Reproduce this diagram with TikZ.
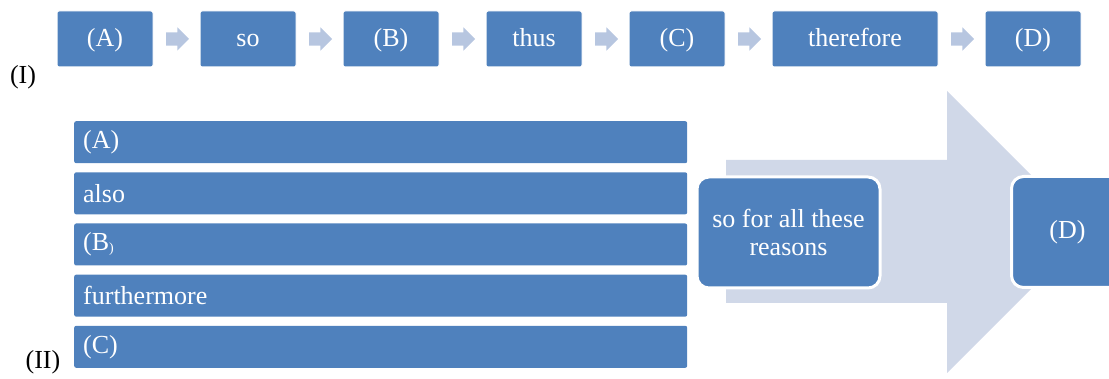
\documentclass[tikz,border=0pt]{standalone}
\usepackage{fontspec}
\setmainfont{Liberation Serif}
\usetikzlibrary{shapes.arrows,positioning}
\definecolor{boxblue}{HTML}{4F81BD}
\definecolor{steparrow}{HTML}{B7C6E0}
\definecolor{bigarrow}{HTML}{D0D8E8}

\begin{document}
\begin{tikzpicture}[x=1pt,y=-1pt,
  every node/.style={font=\fontsize{26}{28}\selectfont},
  word/.style={fill=boxblue,draw=white,line width=1pt,outer sep=0pt,rounded corners=2pt,text=white,minimum width=96pt,minimum height=56pt,inner sep=0pt,text height=21pt,text depth=5pt},
  link/.style={single arrow,fill=steparrow,minimum height=23pt,minimum width=23pt,single arrow head extend=5pt,inner xsep=0pt,inner ysep=6.5pt,outer sep=0pt},
  bar/.style={fill=boxblue,rounded corners=2pt,text=white,minimum height=42pt,text width=595pt,inner xsep=9pt,inner ysep=0pt,align=left},
  block/.style={fill=boxblue,draw=white,line width=3pt,rounded corners=12pt,text=white,minimum height=111pt,align=center,inner sep=0pt}]
\useasboundingbox (0,0) rectangle (1109,379);

% (I)
\node (one) at (23,77) {(I)};
\node[word] (a) at (105,39) {(A)};
\node[link] (a1)[right=13pt of a] {};
\node[word] (so)[right=11pt of a1] {so};
\node[link] (so1)[right=13pt of so] {};
\node[word] (b)[right=11pt of so1] {(B)};
\node[link] (b1)[right=13pt of b] {};
\node[word] (thus)[right=11pt of b1] {thus};
\node[link] (thus1)[right=13pt of thus] {};
\node[word] (c)[right=11pt of thus1] {(C)};
\node[link] (c1)[right=13pt of c] {};
\node[word,minimum width=166pt] (therefore)[right=11pt of c1] {therefore};
\node[link] (therefore1)[right=13pt of therefore] {};
\node[word] (d)[right=11pt of therefore1] {(D)};

% (II)
\node (two) at (43,362) {(II)};
\fill[bigarrow] (726,160) -- (947,160) -- (947,91) -- (1088,232) -- (947,373) -- (947,303) -- (726,303) -- cycle;
\node[bar,anchor=north west] (la) at (74,121) {(A)};
\node[bar] (lalso)[below=8.75pt of la] {also};
\node[bar] (lb)[below=8.75pt of lalso] {(B\raisebox{-2pt}{\fontsize{14}{14}\selectfont)}};
\node[bar] (lfurther)[below=8.75pt of lb] {furthermore};
\node[bar] (lc)[below=8.75pt of lfurther] {(C)};
\node[block,minimum width=183pt] (reasons) at (788.5,232.5) {so for all these\\reasons};
\node[block,minimum width=112pt,anchor=west] (dd) at (1010,232) {(D)};
\end{tikzpicture}
\end{document}
